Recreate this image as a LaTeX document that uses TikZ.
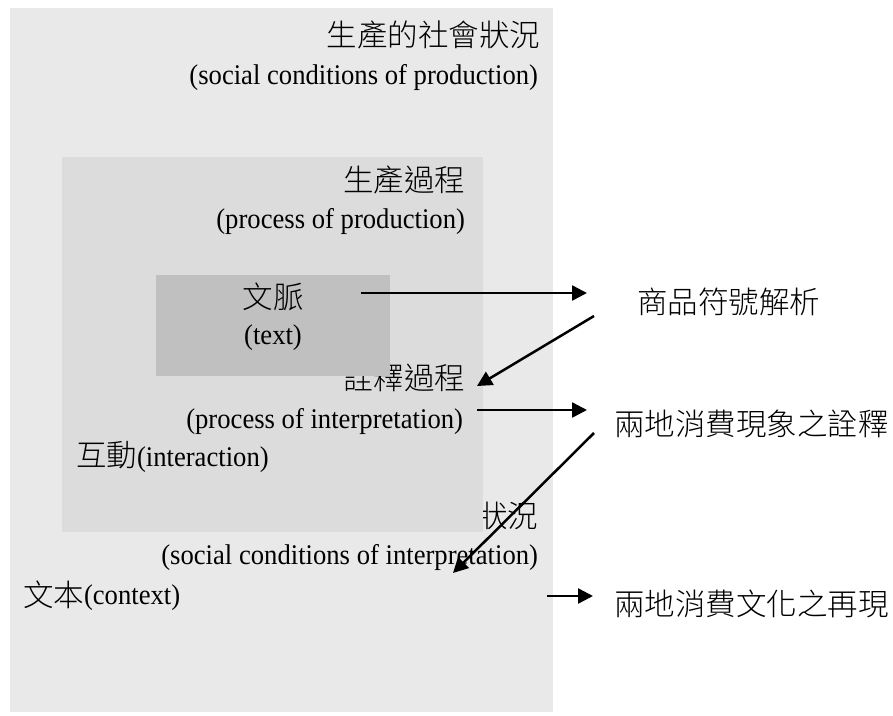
\documentclass[tikz,border=0pt]{standalone}
\usepackage{fontspec}
\setmainfont{Liberation Serif}[FakeStretch=0.935]
\newfontfamily\cjkfont{Noto Sans CJK TC Light}
\usetikzlibrary{arrows.meta}
\definecolor{outerbg}{RGB}{233,233,233}
\definecolor{midbg}{RGB}{220,220,220}
\definecolor{innerbg}{RGB}{192,192,192}
\newcommand\zh[1]{{\cjkfont\fontsize{30.5}{34}\selectfont #1}}
\tikzset{
  lbl/.style={inner sep=0pt, outer sep=0pt, font=\fontsize{28.5}{32}\selectfont},
  arr/.style={line width=2.5pt, -{Triangle[length=15pt,width=15pt]}},
  panel/.style={draw=none, inner sep=0pt, outer sep=0pt, anchor=north west}
}
\begin{document}
\begin{tikzpicture}[x=1pt,y=-1pt]
\useasboundingbox (0,0) rectangle (893,715);
\fill[white] (0,0) rectangle (893,715);
% outer panel
\node[panel, fill=outerbg, minimum width=543pt, minimum height=704pt] (outer) at (10,8) {};
\node[lbl, anchor=base east] (t1) at (540,46) {\zh{生產的社會狀況}};
\node[lbl, anchor=base east] (t2) at (538,84) {(social conditions of production)};
\node[lbl, anchor=base east] (t9) at (538,527) {\zh{狀況}};
\node[lbl, anchor=base east] (t10) at (538,564) {(social conditions of interpretation)};
\node[lbl, anchor=base west] (t11) at (23,604) {\raisebox{-2pt}{\zh{文本}}(context)};
% middle panel
\node[panel, fill=midbg, minimum width=421pt, minimum height=375pt] (middle) at (62,157) {};
\node[lbl, anchor=base east] (t3) at (465,191) {\zh{生產過程}};
\node[lbl, anchor=base east] (t4) at (465,228) {(process of production)};
\node[lbl, anchor=base east] (t7) at (465,389) {\zh{詮釋過程}};
\node[lbl, anchor=base east] (t8) at (463,428) {(process of interpretation)};
\node[lbl, anchor=base west] (t12) at (76,466) {\zh{互動}(interaction)};
% inner panel
\node[panel, fill=innerbg, minimum width=234pt, minimum height=101pt] (inner) at (156,275) {};
\node[lbl, anchor=base] (t5) at (273,308) {\zh{文脈}};
\node[lbl, anchor=base] (t6) at (273,344) {(text)};
% right column
\node[lbl, anchor=base west] (r1) at (637,313) {\zh{商品符號解析}};
\node[lbl, anchor=base west] (r2) at (614,435) {\zh{兩地消費現象之詮釋}};
\node[lbl, anchor=base west] (r3) at (614,615) {\zh{兩地消費文化之再現}};
% arrows
\coordinate (a1s) at (361,293); \coordinate (a1e) at (587,293);
\coordinate (a2s) at (594,316); \coordinate (a2e) at (477,386);
\coordinate (a3s) at (477,410); \coordinate (a3e) at (587,410);
\coordinate (a4s) at (594,433); \coordinate (a4e) at (453,573);
\coordinate (a5s) at (547,596); \coordinate (a5e) at (593,596);
\draw[arr] (a1s) -- (a1e);
\draw[arr] (a2s) -- (a2e);
\draw[arr] (a3s) -- (a3e);
\draw[arr] (a4s) -- (a4e);
\draw[arr] (a5s) -- (a5e);
\end{tikzpicture}
\end{document}
